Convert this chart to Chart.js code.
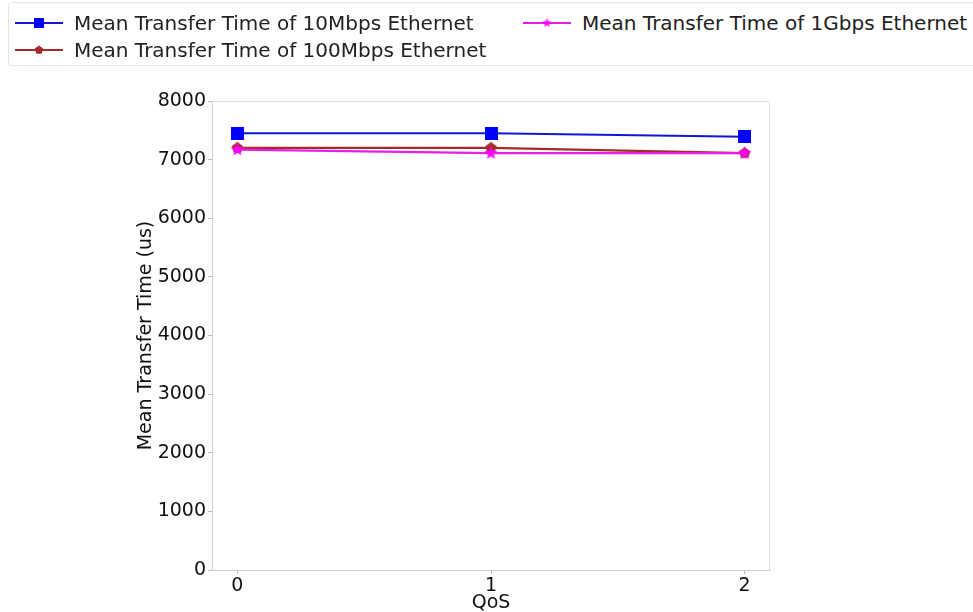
<!DOCTYPE html>
<html>
<head>
<meta charset="utf-8">
<script src="https://cdn.jsdelivr.net/npm/chart.js@4.4.1/dist/chart.umd.min.js"></script>
<style>
  html,body{margin:0;padding:0;background:#fff;}
  #wrap{position:relative;width:973px;height:612px;overflow:hidden;font-family:"DejaVu Sans",sans-serif;}
  #c{position:absolute;left:0;top:0;}
  #legend{position:absolute;left:8px;top:2px;width:990px;height:64px;border:1px solid #e4e4e4;border-radius:4px;background:#fff;box-sizing:border-box;}
  .item{position:absolute;display:flex;align-items:center;font-size:20px;color:#222;white-space:nowrap;}
  .item canvas{margin-right:10px;}
</style>
</head>
<body>
<div id="wrap">
  <canvas id="c" width="973" height="612"></canvas>
  <div id="legend"></div>
</div>
<script>
const qos = [0, 1, 2];
const seriesLabels = [
  "Mean Transfer Time of 10Mbps Ethernet",
  "Mean Transfer Time of 100Mbps Ethernet",
  "Mean Transfer Time of 1Gbps Ethernet"
];
const eth10M = [7450, 7450, 7390];
const eth100M = [7200, 7200, 7110];
const eth1G = [7170, 7110, 7110];
const yTicks = [0, 1000, 2000, 3000, 4000, 5000, 6000, 7000, 8000];
const colors = ["#0000ff", "#a52a2a", "#ff00ff"];
const lineColors = ["#1414d2", "#a52a2a", "#e61ee6"];

function polyCanvas(n, color, size, star) {
  const c = document.createElement('canvas');
  c.width = size; c.height = size;
  const g = c.getContext('2d');
  const cx = size / 2, cy = size / 2, R = size / 2 - 0.5, r = R * 0.42;
  g.beginPath();
  const pts = star ? n * 2 : n;
  for (let i = 0; i < pts; i++) {
    const a = -Math.PI / 2 + i * 2 * Math.PI / pts;
    const rad = star ? (i % 2 ? r : R) : R;
    const x = cx + rad * Math.cos(a), y = cy + rad * Math.sin(a);
    i ? g.lineTo(x, y) : g.moveTo(x, y);
  }
  g.closePath();
  g.fillStyle = color; g.fill();
  return c;
}
function rectCanvas(color, size) {
  const c = document.createElement('canvas');
  c.width = size; c.height = size;
  const g = c.getContext('2d');
  g.fillStyle = color; g.fillRect(0, 0, size, size);
  return c;
}
const markers = [rectCanvas(colors[0], 13), polyCanvas(5, colors[1], 13, false), polyCanvas(5, colors[2], 15, true)];
const legendMarkers = [rectCanvas(colors[0], 10), polyCanvas(5, colors[1], 10, false), polyCanvas(5, colors[2], 11, true)];

const seriesData = [eth10M, eth100M, eth1G];
const datasets = seriesData.map((vals, i) => ({
  label: seriesLabels[i],
  data: qos.map((q, j) => ({x: q, y: vals[j]})),
  borderColor: lineColors[i],
  backgroundColor: colors[i],
  borderWidth: 2.2,
  pointStyle: markers[i],
  order: 2 - i,
  tension: 0
}));

const framePlugin = {
  id: 'frame',
  afterDraw(chart) {
    const {ctx, chartArea: a} = chart;
    ctx.save();
    ctx.strokeStyle = '#e0e0e0';
    ctx.lineWidth = 1;
    ctx.beginPath();
    ctx.moveTo(a.left, a.top + 0.5); ctx.lineTo(a.right - 0.5, a.top + 0.5); ctx.lineTo(a.right - 0.5, a.bottom);
    ctx.stroke();
    ctx.restore();
  }
};

const font = {family: "'DejaVu Sans', sans-serif", size: 19};
new Chart(document.getElementById('c'), {
  type: 'line',
  data: {datasets},
  plugins: [framePlugin],
  options: {
    responsive: false,
    animation: false,
    layout: {padding: {top: 101, left: 130, right: 203, bottom: 0}},
    plugins: {legend: {display: false}, tooltip: {enabled: false}},
    scales: {
      x: {
        type: 'linear', min: -0.1, max: 2.1,
        afterBuildTicks: s => { s.ticks = qos.map(v => ({value: v})); },
        afterFit: s => { s.height = 42; },
        ticks: {font, color: '#111', padding: 1, callback: v => String(v)},
        grid: {drawOnChartArea: false, drawTicks: true, tickLength: 4, color: '#bbb'},
        border: {display: true, color: '#cfcfcf'},
        title: {display: true, text: 'QoS', font, color: '#111', padding: {top: 0, bottom: -2}}
      },
      y: {
        type: 'linear', min: 0, max: 8000,
        afterBuildTicks: s => { s.ticks = yTicks.map(v => ({value: v})); },
        afterFit: s => { s.width = 82; },
        ticks: {font, color: '#111', padding: 2, callback: v => String(v)},
        grid: {drawOnChartArea: false, drawTicks: true, tickLength: 4, color: '#bbb'},
        border: {display: true, color: '#cfcfcf'},
        title: {display: true, text: 'Mean Transfer Time (us)', font, color: '#111', padding: {top: 5, bottom: 0}}
      }
    },
    elements: {point: {radius: 7}}
  }
});

// HTML legend (matplotlib ncol=2, column-major)
const legend = document.getElementById('legend');
const pos = [[5, 8], [5, 35], [513, 8]];
seriesLabels.forEach((lab, i) => {
  const d = document.createElement('div');
  d.className = 'item';
  d.style.left = pos[i][0] + 'px';
  d.style.top = pos[i][1] + 'px';
  const h = document.createElement('canvas');
  h.width = 50; h.height = 22;
  const g = h.getContext('2d');
  g.strokeStyle = lineColors[i]; g.lineWidth = 2;
  g.beginPath(); g.moveTo(1, 11); g.lineTo(49, 11); g.stroke();
  const m = legendMarkers[i];
  g.drawImage(m, 25 - m.width / 2, 11 - m.height / 2);
  d.appendChild(h);
  const t = document.createElement('span');
  t.textContent = lab;
  d.appendChild(t);
  legend.appendChild(d);
});
</script>
</body>
</html>
